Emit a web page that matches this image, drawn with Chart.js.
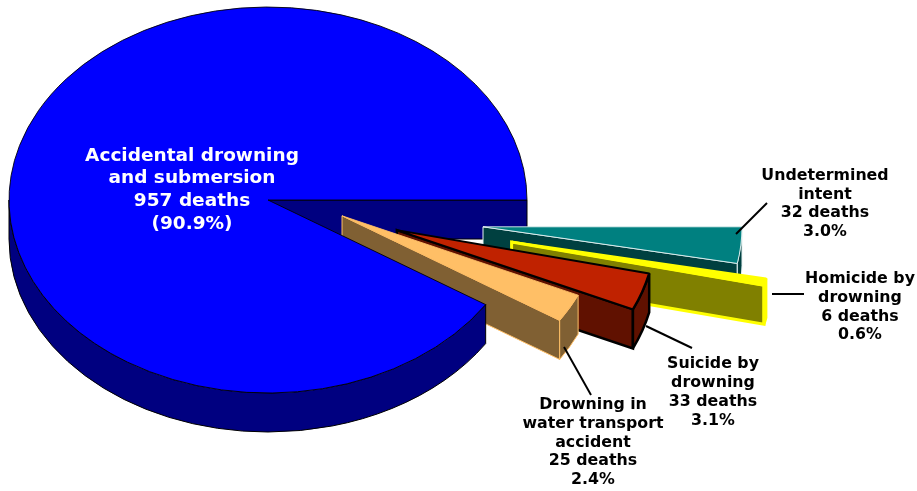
<!DOCTYPE html>
<html>
<head>
<meta charset="utf-8">
<title>Drowning deaths</title>
<style>
  html, body { margin: 0; padding: 0; background: #fff; }
  canvas { display: block; }
</style>
<script src="https://cdn.jsdelivr.net/npm/chart.js@4"></script>
</head>
<body>
<canvas id="pie" width="917" height="491"></canvas>
<script>
// slices run clockwise starting from the east side of the pie
const categories = ['Undetermined intent', 'Homicide by drowning', 'Suicide by drowning', 'Drowning in water transport accident', 'Accidental drowning and submersion'];
const deaths = [32, 6, 33, 25, 957];
const percents = ['3.0%', '0.6%', '3.1%', '2.4%', '(90.9%)'];

const topColors = ['#008080', '#ffff00', '#c02200', '#ffbf66', '#0000ff'];
const wallColors = ['#004040', '#808000', '#601100', '#806033', '#000080'];
const edgeColors = ['#e6f2f2', '#ffff00', '#000000', '#ffbf66', '#000000'];
const edgeWidths = [1, 3, 2.5, 1, 1];

// how far each slice is pulled out of the pie, and in which direction (degrees)
const pullDistance = [218, 250, 135, 77, 0];
const pullAngle = [9.5, 13, 17.4, 16, 0];

const labelLines = [
  ['Undetermined', 'intent'],
  ['Homicide by', 'drowning'],
  ['Suicide by', 'drowning'],
  ['Drowning in', 'water transport', 'accident'],
  ['Accidental drowning', 'and submersion']
];

const squash = 193 / 259;
const depth = 39;
const centerX = 268;
const centerY = 200;

function shapeTransform(ctx, arc, i) {
  const a = pullAngle[i] * Math.PI / 180;
  ctx.translate(centerX + pullDistance[i] * Math.cos(a), centerY + pullDistance[i] * Math.sin(a) * squash);
  ctx.scale(1, squash);
  ctx.translate(-arc.x, -arc.y);
}

function strokeFill(ctx, i, width) {
  ctx.fillStyle = wallColors[i];
  ctx.fill();
  ctx.strokeStyle = edgeColors[i];
  ctx.lineWidth = width;
  ctx.lineJoin = 'miter';
  ctx.miterLimit = 2;
  ctx.stroke();
}

function drawRayWall(ctx, arc, i) {
  const d = depth / squash;
  const ex = arc.x + arc.outerRadius * Math.cos(arc.endAngle);
  const ey = arc.y + arc.outerRadius * Math.sin(arc.endAngle);
  ctx.save();
  shapeTransform(ctx, arc, i);
  ctx.beginPath();
  ctx.moveTo(arc.x, arc.y);
  ctx.lineTo(ex, ey);
  ctx.lineTo(ex, ey + d);
  ctx.lineTo(arc.x, arc.y + d);
  ctx.closePath();
  ctx.restore();
  strokeFill(ctx, i, edgeWidths[i]);
}

function drawRimWall(ctx, arc, i) {
  const d = depth / squash;
  const from = Math.max(arc.startAngle, 0);
  const to = Math.min(arc.endAngle, Math.PI);
  ctx.save();
  shapeTransform(ctx, arc, i);
  ctx.beginPath();
  ctx.arc(arc.x, arc.y, arc.outerRadius, from, to);
  ctx.arc(arc.x, arc.y + d, arc.outerRadius, to, from, true);
  ctx.closePath();
  ctx.restore();
  strokeFill(ctx, i, edgeWidths[i]);
}

function drawTop(ctx, arc, i) {
  ctx.save();
  shapeTransform(ctx, arc, i);
  arc.draw(ctx);
  ctx.restore();
}

const pie3d = {
  id: 'pie3d',
  beforeDatasetDraw(chart, args) {
    const ctx = chart.ctx;
    const arcs = args.meta.data;
    const main = arcs.length - 1;

    // back wall of the big slice goes first, everything else sits in front of it
    drawRayWall(ctx, arcs[main], main);
    for (let i = 0; i < main; i++) {
      drawRayWall(ctx, arcs[i], i);
      drawRimWall(ctx, arcs[i], i);
      drawTop(ctx, arcs[i], i);
    }
    drawRimWall(ctx, arcs[main], main);
    drawTop(ctx, arcs[main], main);
    return false;
  }
};

// label anchor, first line centre, line height, font size, colour
const labelPlaces = [
  { x: 825, y: 176, step: 18.6, size: 15.8, color: '#000' },
  { x: 860, y: 279, step: 18.7, size: 15.8, color: '#000' },
  { x: 713, y: 364, step: 19, size: 15.8, color: '#000' },
  { x: 593, y: 405, step: 18.7, size: 15.8, color: '#000' },
  { x: 192, y: 156, step: 22.6, size: 18.5, color: '#fff' }
];

const leaderLines = [
  [767, 203, 736, 234],
  [772, 294, 804, 294],
  [692, 348, 646, 326],
  [591, 395, 564, 347]
];

const pieLabels = {
  id: 'pieLabels',
  afterDraw(chart) {
    const ctx = chart.ctx;
    ctx.save();
    ctx.strokeStyle = '#000';
    ctx.lineWidth = 2;
    for (const l of leaderLines) {
      ctx.beginPath();
      ctx.moveTo(l[0], l[1]);
      ctx.lineTo(l[2], l[3]);
      ctx.stroke();
    }
    ctx.textAlign = 'center';
    ctx.textBaseline = 'middle';
    categories.forEach((name, i) => {
      const p = labelPlaces[i];
      const lines = labelLines[i].concat([deaths[i] + ' deaths', percents[i]]);
      ctx.font = 'bold ' + p.size + 'px "DejaVu Sans", Verdana, sans-serif';
      ctx.fillStyle = p.color;
      lines.forEach((line, n) => ctx.fillText(line, p.x, p.y + n * p.step));
    });
    ctx.restore();
  }
};

new Chart(document.getElementById('pie'), {
  type: 'pie',
  data: {
    labels: categories,
    datasets: [{
      data: deaths,
      backgroundColor: topColors,
      borderColor: edgeColors,
      borderWidth: edgeWidths
    }]
  },
  options: {
    responsive: false,
    animation: false,
    rotation: 90,
    radius: 259,
    layout: { padding: 0 },
    plugins: { legend: { display: false }, tooltip: { enabled: false } }
  },
  plugins: [pie3d, pieLabels]
});
</script>
</body>
</html>
